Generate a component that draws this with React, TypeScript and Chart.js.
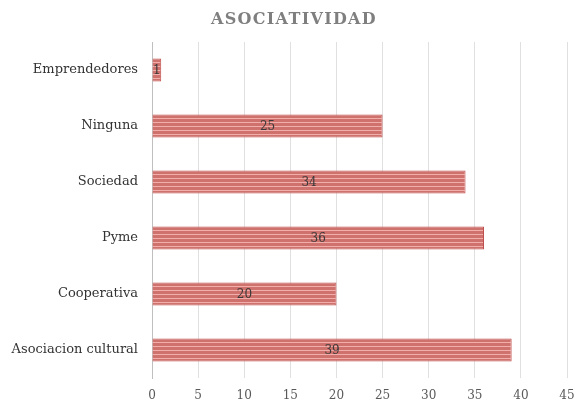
import React, { useEffect, useRef } from "react";
import { Chart, registerables } from "chart.js";

Chart.register(...registerables);

const categories = ["Emprendedores", "Ninguna", "Sociedad", "Pyme", "Cooperativa", "Asociacion cultural"];
const values = [1, 25, 34, 36, 20, 39];
const titleText = "ASOCIATIVIDAD";
const xMax = 45;
const xStep = 5;

const FONT = "'DejaVu Serif', serif";

function makePattern(): CanvasPattern | string {
  const c = document.createElement("canvas");
  c.width = 4;
  c.height = 4;
  const g = c.getContext("2d");
  if (!g) return "#cc6b66";
  g.fillStyle = "#cf716c";
  g.fillRect(0, 0, 4, 4);
  g.fillStyle = "#f2aeaa";
  g.fillRect(0, 2, 4, 1);
  const p = g.createPattern(c, "repeat");
  return p || "#cc6b66";
}

const titlePlugin = {
  id: "customTitle",
  afterDraw(chart: any) {
    const ctx = chart.ctx as CanvasRenderingContext2D;
    ctx.save();
    ctx.font = "bold 16px " + FONT;
    (ctx as any).letterSpacing = "1.3px";
    ctx.fillStyle = "#7f7f7f";
    ctx.textAlign = "center";
    ctx.textBaseline = "middle";
    ctx.fillText(titleText, 294, 20);
    ctx.restore();
  },
};

const labelPlugin = {
  id: "barLabels",
  afterDatasetsDraw(chart: any) {
    const ctx = chart.ctx as CanvasRenderingContext2D;
    const meta = chart.getDatasetMeta(0);
    ctx.save();
    ctx.font = "12px " + FONT;
    ctx.fillStyle = "#3a3a3a";
    ctx.textAlign = "center";
    ctx.textBaseline = "middle";
    meta.data.forEach((bar: any, i: number) => {
      const cx = (bar.x + bar.base) / 2;
      ctx.fillText(String(values[i]), cx, bar.y + 1);
    });
    ctx.restore();
  },
};

export default function App() {
  const ref = useRef<HTMLCanvasElement | null>(null);
  useEffect(() => {
    if (!ref.current) return;
    const chart = new Chart(ref.current, {
      type: "bar",
      data: {
        labels: categories,
        datasets: [
          {
            data: values,
            backgroundColor: makePattern() as any,
            borderColor: "#c0504d",
            borderWidth: 1,
            categoryPercentage: 0.8,
            barPercentage: 0.51,
          },
        ],
      },
      options: {
        indexAxis: "y",
        animation: false,
        responsive: false,
        maintainAspectRatio: false,
        layout: { padding: { top: 42, right: 0, left: 0, bottom: 0 } },
        plugins: {
          legend: { display: false },
          title: { display: false },
          tooltip: { enabled: false },
        },
        scales: {
          x: {
            min: 0,
            max: xMax,
            ticks: {
              stepSize: xStep,
              color: "#595959",
              font: { family: FONT, size: 12 },
              padding: 11,
            },
            grid: { color: "#e0e0e0", drawTicks: false },
            border: { display: false },
            afterFit: (s: any) => {
              s.height = 25;
              s.paddingLeft = 0;
              s.paddingRight = 9;
            },
          },
          y: {
            ticks: {
              color: "#333333",
              font: { family: FONT, size: 13 },
              padding: 14,
            },
            grid: { display: false, drawTicks: false },
            border: { display: true, color: "#bfbfbf" },
            afterFit: (s: any) => {
              s.width = 152;
              s.paddingTop = 0;
              s.paddingBottom = 0;
            },
          },
        },
      },
      plugins: [titlePlugin, labelPlugin],
    });
    return () => chart.destroy();
  }, []);
  return (
    <div style={{ position: "fixed", left: 0, top: 0, width: 576, height: 403, background: "#fff" }}>
      <canvas ref={ref} width={576} height={403} style={{ width: 576, height: 403 }} />
    </div>
  );
}
